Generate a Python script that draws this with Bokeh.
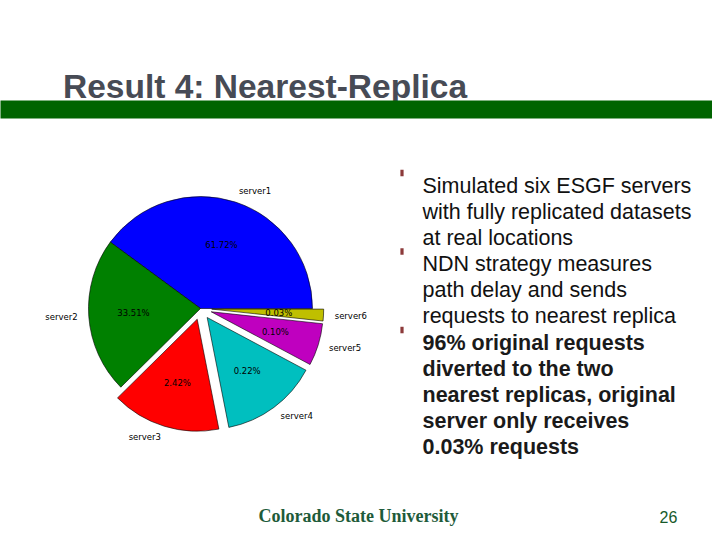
import math
from bokeh.plotting import figure
from bokeh.models import Range1d
from bokeh.core.properties import value
from bokeh.embed import file_html
from bokeh.resources import INLINE

# ---------------- data ----------------
servers = ["server1", "server2", "server3", "server4", "server5", "server6"]
shares = [39.9, 22.5, 15.7, 14.1, 6.1, 1.7]          # slice sizes as drawn
pct_labels = ["61.72%", "33.51%", "2.42%", "0.22%", "0.10%", "0.03%"]
explode = [0.0, 0.0, 0.1, 0.1, 0.1, 0.1]
colors = ["#0000ff", "#008000", "#ff0000", "#00bfbf", "#bf00bf", "#bfbf00"]

title_text = "Result 4: Nearest-Replica"
bullet_lines = [
    ("Simulated six ESGF servers", "normal", True),
    ("with fully replicated datasets", "normal", False),
    ("at real locations", "normal", False),
    ("NDN strategy measures", "normal", True),
    ("path delay and sends", "normal", False),
    ("requests to nearest replica", "normal", False),
    ("96% original requests", "bold", True),
    ("diverted to the two", "bold", False),
    ("nearest replicas, original", "bold", False),
    ("server only receives", "bold", False),
    ("0.03% requests", "bold", False),
]
logo_text = "Colorado State University"
page_number = "26"

# ---------------- layout ----------------
FW, FH = 712, 532
H = 540
def Y(py):
    return H - py

p = figure(width=FW, height=FH, output_backend="svg", toolbar_location=None,
           x_range=Range1d(0, FW), y_range=Range1d(Y(FH), Y(0)),
           x_axis_type=None, y_axis_type=None, min_border=0,
           outline_line_color=None, background_fill_color="white",
           border_fill_color="white")
p.grid.visible = False

# title
p.text(x=[62.5], y=[Y(86)], text=[title_text], text_font=value("Liberation Sans"),
       text_font_style="bold", text_font_size="33.5px", text_color="#474b55",
       text_baseline="alphabetic", text_align="left")

# green rule
p.quad(left=[-10], right=[730], top=[Y(100)], bottom=[Y(118)],
       fill_color="#006400", line_color=None)

# ---------------- pie ----------------
cx, cy, R = 200.0, Y(308), 112.0
total = sum(shares)
start = 0.0
for name, s, lab, ex, col in zip(servers, shares, pct_labels, explode, colors):
    a0 = start
    a1 = start + 2 * math.pi * s / total
    mid = (a0 + a1) / 2
    ox = cx + ex * R * math.cos(mid)
    oy = cy + ex * R * math.sin(mid)
    p.wedge(x=[ox], y=[oy], radius=R, start_angle=a0, end_angle=a1,
            direction="anticlock", fill_color=col, line_color="black",
            line_width=0.6)
    lx = ox + 1.1 * R * math.cos(mid)
    ly = oy + 1.1 * R * math.sin(mid)
    p.text(x=[lx], y=[ly], text=[name], text_font=value("DejaVu Sans"),
           text_font_size="8.5px", text_color="black",
           text_align="left" if math.cos(mid) > 0 else "right",
           text_baseline="middle")
    px_ = ox + 0.6 * R * math.cos(mid)
    py_ = oy + 0.6 * R * math.sin(mid)
    p.text(x=[px_], y=[py_], text=[lab], text_font=value("DejaVu Sans"),
           text_font_size="8.5px", text_color="black",
           text_align="center", text_baseline="middle")
    start = a1

# ---------------- bullets ----------------
base0, step = 185.0, 26.17
for i, (line, style, has_bullet) in enumerate(bullet_lines):
    by = base0 + i * step
    p.text(x=[422], y=[Y(by)], text=[line], text_font=value("Liberation Sans"),
           text_font_style=style, text_font_size="21.5px",
           text_color="#111111" if style == "normal" else "#1a1a1a",
           text_align="left", text_baseline="alphabetic")
    if has_bullet:
        p.rect(x=[401.5], y=[Y(by - 12.5)], width=3.2, height=6.5,
               fill_color="#8c3a3a", line_color=None)

# ---------------- footer ----------------
p.text(x=[358], y=[Y(515)], text=[logo_text], text_font=value("Liberation Serif"),
       text_font_style="bold", text_font_size="18px", text_color="#1e5b3a",
       text_align="center", text_baseline="alphabetic")
p.text(x=[668], y=[Y(516.5)], text=[page_number], text_font=value("Liberation Sans"),
       text_font_size="16px", text_color="#17592a",
       text_align="center", text_baseline="alphabetic")

open("out.html", "w").write(file_html(p, INLINE))
